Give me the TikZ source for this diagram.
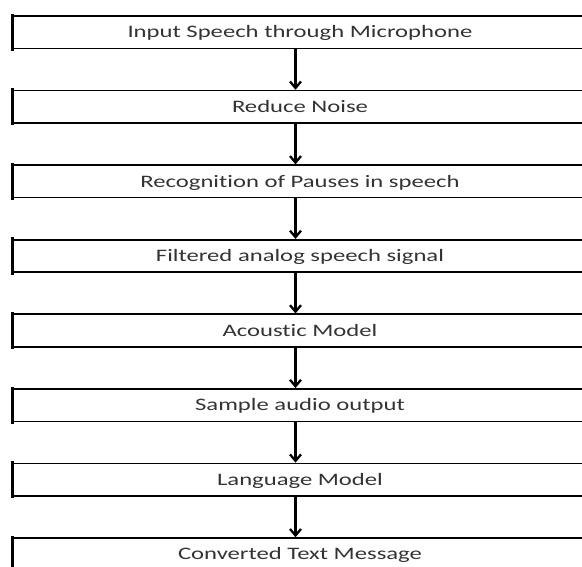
\documentclass[tikz,border=0pt]{standalone}
\usepackage{fontspec}
\setmainfont{Carlito}[FakeStretch=1.41, Ligatures=NoCommon]
\usetikzlibrary{arrows.meta}
\definecolor{txt}{HTML}{333333}
\tikzset{
  stage/.style={draw=black, line width=1.6pt, minimum width=574pt, minimum height=32.5pt,
    inner sep=0pt, text=txt, font=\fontsize{17.5}{21}\selectfont, text height=11.3pt, text depth=0pt},
  flow/.style={line width=2.3pt, -{Straight Barb[length=6.5pt,width=11pt,line width=2.3pt]}},
  leftedge/.style={line width=3pt, line cap=rect}
}
\begin{document}
\begin{tikzpicture}[x=1pt,y=-1pt]
\useasboundingbox (0,0) rectangle (582,566);
\clip (0,0) rectangle (582,566);
\node[stage] (n1) at (300,32.25) {Input Speech through Microphone};
\node[stage] (n2) at (300,106.8) {Reduce Noise};
\node[stage] (n3) at (300,181.4) {Recognition of Pauses in speech};
\node[stage] (n4) at (300,256.0) {Filtered analog speech signal};
\node[stage] (n5) at (300,330.5) {Acoustic Model};
\node[stage] (n6) at (300,405.1) {Sample audio output};
\node[stage] (n7) at (300,479.7) {Language Model};
\node[stage] (n8) at (300,554.3) {Converted Text Message};
\foreach \n in {n1,n2,n3,n4,n5,n6,n7,n8}{
  \draw[leftedge] (\n.south west) -- (\n.north west);
}
\foreach \a/\b in {n1/n2,n2/n3,n3/n4,n4/n5,n5/n6,n6/n7,n7/n8}{
  \draw[flow] ([xshift=-4.5pt]\a.south) -- ([xshift=-4.5pt]\b.north);
}
\end{tikzpicture}
\end{document}
